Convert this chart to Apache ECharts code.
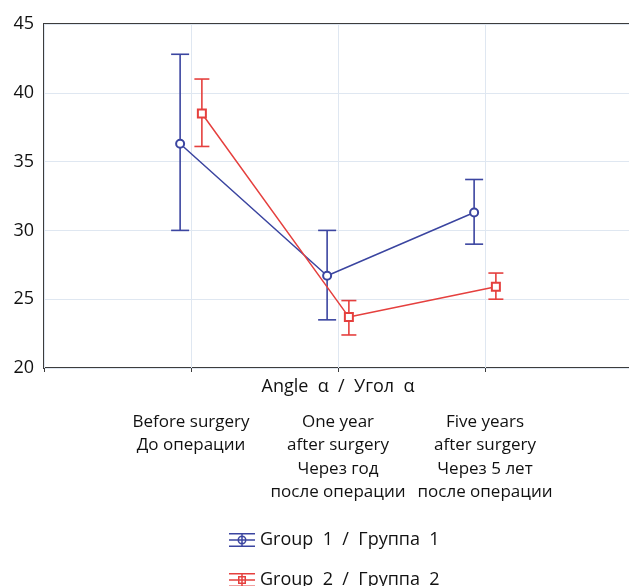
<!DOCTYPE html>
<html>
<head>
<meta charset="utf-8">
<script src="https://cdn.jsdelivr.net/npm/echarts@6/dist/echarts.min.js"></script>
</head>
<body style="margin:0;background:#fff">
<div id="container" style="width:629px;height:586px"></div>
<script type="text/javascript">
    var categories = [
        'Before surgery\nДо операции',
        'One year\nafter surgery\nЧерез год\nпосле операции',
        'Five years\nafter surgery\nЧерез 5 лет\nпосле операции'
    ];
    var positions = [1, 2, 3];
    var g1Name = 'Group  1  /  Группа  1';
    var g1Mean = [36.3, 26.7, 31.3];
    var g1Low = [30.0, 23.5, 29.0];
    var g1High = [42.8, 30.0, 33.7];
    var g2Name = 'Group  2  /  Группа  2';
    var g2Mean = [38.5, 23.7, 25.9];
    var g2Low = [36.1, 22.4, 25.0];
    var g2High = [41.0, 24.9, 26.9];
    var dodge = 0.074;

    var blue = '#3b45a0';
    var red = '#e5403e';

    function points(mean, shift) {
        return positions.map(function (p, i) { return [p + shift, mean[i]]; });
    }
    function bars(low, high, shift) {
        return positions.map(function (p, i) { return [p + shift, low[i], high[i]]; });
    }
    // error bar with caps
    function errorBar(capHalf) {
        return function (params, api) {
            var x = api.value(0);
            var lo = api.coord([x, api.value(1)]);
            var hi = api.coord([x, api.value(2)]);
            var style = {stroke: api.visual('color'), lineWidth: 1.6};
            return {
                type: 'group',
                children: [
                    {type: 'line', shape: {x1: lo[0], y1: lo[1], x2: hi[0], y2: hi[1]}, style: style},
                    {type: 'line', shape: {x1: lo[0] - capHalf, y1: lo[1], x2: lo[0] + capHalf, y2: lo[1]}, style: style},
                    {type: 'line', shape: {x1: hi[0] - capHalf, y1: hi[1], x2: hi[0] + capHalf, y2: hi[1]}, style: style}
                ]
            };
        };
    }

    // legend glyph: caps + bar + marker (outer clockwise, hole anticlockwise)
    var barsIcon = 'M0,0h26v1.5h-26z M0,6.25h26v1.5h-26z M0,12.5h26v1.5h-26z M12.25,0h1.5v14h-1.5z ';
    var iconCircle = 'path://' + barsIcon + 'M8.5,7a4.5,4.5 0 1,1 9,0a4.5,4.5 0 1,1 -9,0z M10,7a3,3 0 1,0 6,0a3,3 0 1,0 -6,0z';
    var iconSquare = 'path://' + barsIcon + 'M9,3h8v8h-8z M10.5,4.5v5h5v-5z';

    var myChart = echarts.init(document.getElementById('container'));
    var font = '"Open Sans", sans-serif';

    option = {
        animation: false,
        textStyle: {fontFamily: font},
        grid: {
            left: 44, top: 24, width: 588, height: 344,
            outerBoundsMode: 'none', containLabel: false,
            show: true, borderColor: '#3c3c3c', borderWidth: 2
        },
        legend: {
            orient: 'vertical',
            left: 229,
            top: 531,
            height: 70,
            padding: 0,
            itemWidth: 26,
            itemHeight: 14,
            itemGap: 22,
            textStyle: {fontSize: 18, lineHeight: 16, color: '#111', fontFamily: font},
            data: [
                {name: g1Name, icon: iconCircle, itemStyle: {color: blue, borderWidth: 0}},
                {name: g2Name, icon: iconSquare, itemStyle: {color: red, borderWidth: 0}}
            ]
        },
        xAxis: {
            type: 'value',
            min: 0,
            max: 4,
            interval: 1,
            name: 'Angle  α  /  Угол  α',
            nameLocation: 'middle',
            nameGap: 10,
            nameMoveOverlap: false,
            nameTextStyle: {fontSize: 18, color: '#111', fontFamily: font, verticalAlign: 'top'},
            axisLine: {show: false},
            axisTick: {show: true, length: 4, lineStyle: {color: '#3c3c3c'}},
            splitLine: {show: true, lineStyle: {color: '#dfe7f1', width: 1}},
            axisLabel: {
                margin: 42,
                fontSize: 17,
                lineHeight: 23.5,
                color: '#111',
                fontFamily: font,
                align: 'center',
                formatter: function (v) {
                    var i = positions.indexOf(v);
                    return i >= 0 ? categories[i] : '';
                }
            }
        },
        yAxis: {
            type: 'value',
            min: 20,
            max: 45,
            interval: 5,
            axisLine: {show: false},
            axisTick: {show: false},
            splitLine: {show: true, lineStyle: {color: '#dfe7f1', width: 1}},
            axisLabel: {fontSize: 18, color: '#111', margin: 10, fontFamily: font}
        },
        series: [
            {
                name: g1Name, type: 'custom', renderItem: errorBar(9), z: 2,
                itemStyle: {color: blue}, data: bars(g1Low, g1High, -dodge)
            },
            {
                name: g2Name, type: 'custom', renderItem: errorBar(7.5), z: 2,
                itemStyle: {color: red}, data: bars(g2Low, g2High, dodge)
            },
            {
                name: g1Name, type: 'line', z: 3, symbol: 'emptyCircle', symbolSize: 8,
                itemStyle: {color: blue, borderWidth: 1.5}, lineStyle: {color: blue, width: 1.5},
                data: points(g1Mean, -dodge)
            },
            {
                name: g2Name, type: 'line', z: 3, symbol: 'emptyRect', symbolSize: 8,
                itemStyle: {color: red, borderWidth: 1.5}, lineStyle: {color: red, width: 1.5},
                data: points(g2Mean, dodge)
            }
        ]
    };

    myChart.setOption(option);
</script>
</body>
</html>
